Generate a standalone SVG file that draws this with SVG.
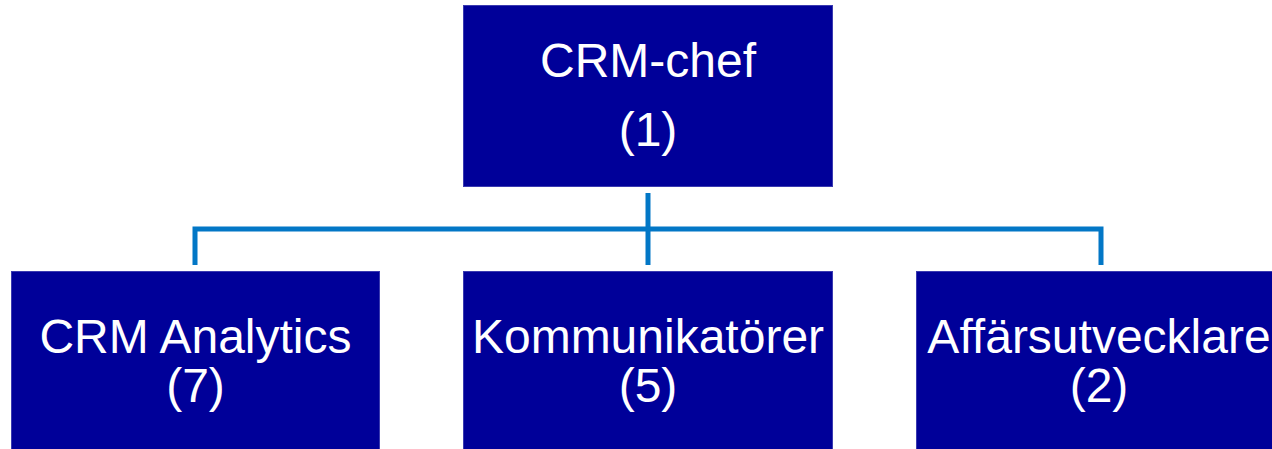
<svg xmlns="http://www.w3.org/2000/svg" width="1272" height="449" viewBox="0 0 1272 449">
<style>
.box{fill:#000099;stroke:#3a3ab0;stroke-width:1}
.t{font-family:"Liberation Sans",Arial,sans-serif;font-size:48px;fill:#ffffff;text-anchor:middle}
.c{fill:none;stroke:#0277c6;stroke-width:5;stroke-linecap:butt;stroke-linejoin:miter}
</style>
<rect width="1272" height="449" fill="#ffffff"/>
<g id="connectors">
<line class="c" x1="648" y1="193" x2="648" y2="265"/>
<path class="c" d="M195 265 V229 H1101 V265"/>
</g>
<g id="n-chef">
<rect class="box" x="463.5" y="5.5" width="369" height="181"/>
<text class="t" x="648" y="77">CRM-chef</text>
<text class="t" x="648" y="146">(1)</text>
</g>
<g id="n-analytics">
<rect class="box" x="11.5" y="271.5" width="368" height="190"/>
<text class="t" x="195.5" y="353">CRM Analytics</text>
<text class="t" x="195.5" y="402">(7)</text>
</g>
<g id="n-komm">
<rect class="box" x="463.5" y="271.5" width="369" height="190"/>
<text class="t" x="648" y="353">Kommunikatörer</text>
<text class="t" x="648" y="402">(5)</text>
</g>
<g id="n-affar">
<rect class="box" x="916.5" y="271.5" width="369" height="190"/>
<text class="t" x="1099" y="353">Affärsutvecklare</text>
<text class="t" x="1099" y="402">(2)</text>
</g>
</svg>
